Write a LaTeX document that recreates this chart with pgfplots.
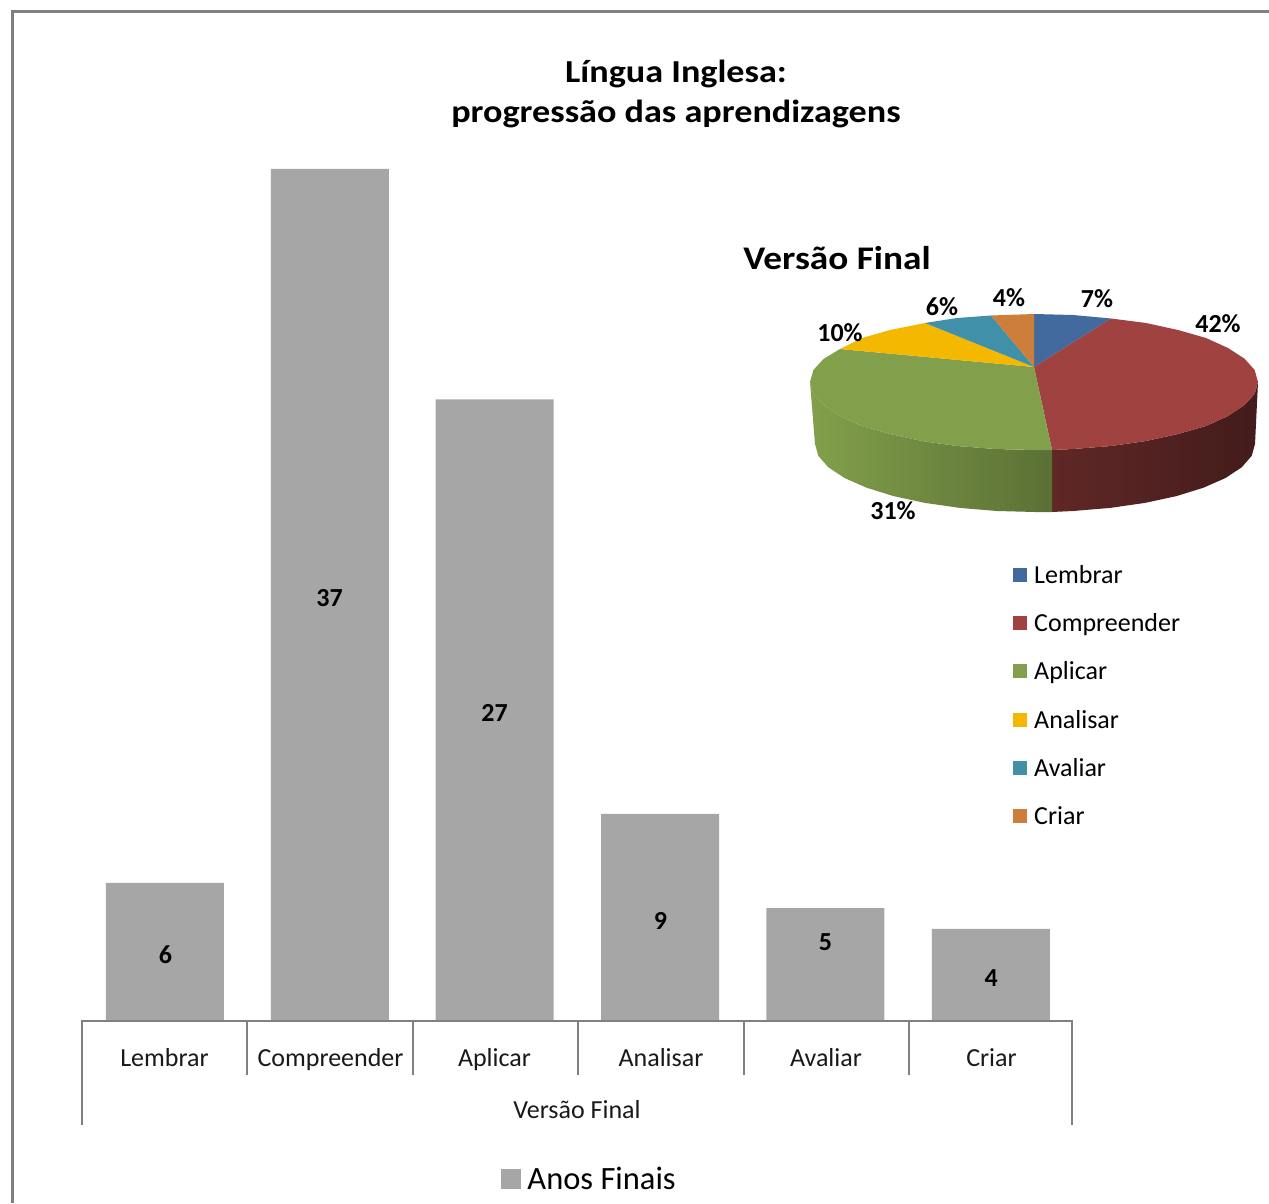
\documentclass[border=0pt]{standalone}
\usepackage{fontspec}
\usepackage{pgfplots}
\pgfplotsset{compat=1.18}
\setmainfont{Carlito}
\newfontfamily\widefont[FakeStretch=1.13]{Carlito}
\definecolor{framegray}{HTML}{808080}
\definecolor{bargray}{HTML}{A6A6A6}
\definecolor{cblue}{HTML}{426A9F}
\definecolor{cred}{HTML}{9F4240}
\definecolor{cgreen}{HTML}{82A04B}
\definecolor{cyellow}{HTML}{F5B800}
\definecolor{cteal}{HTML}{3F90A8}
\definecolor{corange}{HTML}{CC7E3A}
\pgfplotsset{swatch/.style={legend image code/.code={\fill[##1] (0pt,-#1) rectangle (2*#1,#1);}}}
\tikzset{cat/.style={font=\fontsize{26}{26}\selectfont,text=black!90,text height=17pt,text depth=6pt}}
\begin{document}
\begin{tikzpicture}[x=1pt,y=1pt]
\useasboundingbox (0,0) rectangle (1269,1203);
\fill[white] (0,0) rectangle (1269,1203);
% frame
\draw[framegray,line width=3pt] (1269,1191) -- (12,1191) -- (12,0);
% bar chart
\begin{axis}[
  at={(82pt,182pt)},anchor=south west,
  scale only axis,width=990pt,height=852pt,
  xmin=-0.5,xmax=5.5,ymin=0,ymax=37,
  axis y line=none,axis x line=none,
  clip=false,
  legend style={at={(0.4235,-0.169)},anchor=north west,draw=none,fill=none,inner sep=0pt,
    font=\fontsize{32.5}{33}\selectfont,nodes={inner sep=2pt},column sep=4pt},
]
\addplot[ybar,bar width=118pt,fill=bargray,draw=none,swatch=10pt] coordinates {
  (0.003,6) (1.003,37) (2,27) (3.003,9) (4.006,4.9) (5.009,4)};
\addlegendentry{Anos Finais}
\addplot[forget plot,draw=none,mark=none,point meta=explicit symbolic,
  nodes near coords,
  nodes near coords style={anchor=center,font=\fontsize{26}{26}\bfseries\selectfont,text=black}]
  table[meta=label] {
x y label
0.006 2.87 6
1 18.37 37
2 13.37 27
3.006 4.34 9
4.006 3.43 5
5.01 1.87 4
};
\end{axis}
\draw[framegray,line width=2.6pt] (81,182) -- (1073,182);
\foreach \sx in {247,413,578,744,909} \draw[framegray,line width=2.4pt] (\sx,183) -- (\sx,128);
\draw[framegray,line width=2.4pt] (82,183) -- (82,78);
\draw[framegray,line width=2.4pt] (1072,183) -- (1072,78);
\node[cat] at (164.5,142) {Lembrar};
\node[cat] at (330.5,142) {Compreender};
\node[cat] at (494.5,142) {Aplicar};
\node[cat] at (661,142) {Analisar};
\node[cat] at (826,142) {Avaliar};
\node[cat] at (991.5,142) {Criar};
\node[cat] at (577,90) {Versão Final};
% pie, in picture pixel coordinates
\begin{axis}[
  at={(0pt,0pt)},anchor=south west,
  scale only axis,width=1269pt,height=1203pt,
  xmin=0,xmax=1269,ymin=0,ymax=1203,y dir=reverse,
  hide axis,clip=false,
  legend style={at={(axis cs:1013,563)},anchor=north west,draw=none,fill=none,
    font=\fontsize{26}{26}\selectfont,row sep=24.7pt,column sep=5pt,inner sep=0pt,
    nodes={inner sep=2pt}},
  legend cell align=left,
]
\addplot[forget plot,draw=none,left color=cred!60!black,right color=cred!42!black,mark=none] coordinates {
 (1052,450) (1073,449) (1111,446) (1146,441) (1178,434) (1206,426) (1228,416) (1244.5,405) (1254.6,394) (1258,382)
 (1255,444) (1251.7,455.8) (1241.7,467.3) (1225.5,478) (1203.5,487.7) (1176.4,496.1) (1145,502.9) (1110.2,507.9) (1073.2,511) (1052,512)} --cycle;
\addplot[forget plot,draw=none,left color=cgreen,right color=cgreen!70!black,mark=none] coordinates {
 (1052,450) (1034,450) (995,449) (957,446) (922,441) (890,434) (862,426) (840,416) (823.5,405) (813.4,394) (810,382)
 (815,444) (818.3,455.8) (828.3,467.3) (844.5,478) (866.5,487.7) (893.6,496.1) (925,502.9) (959.8,507.9) (996.8,511) (1035,512) (1052,512)} --cycle;
\addplot[draw=none,fill=cblue,mark=none,swatch=7pt] coordinates {(1034,367) (1034,314) (1073,315) (1111,318.5)} --cycle;
\addlegendentry{Lembrar}
\addplot[draw=none,fill=cred,mark=none,swatch=7pt] coordinates {(1034,367) (1111,318.5) (1146,323) (1178,330) (1206,338) (1228,348) (1244.5,358.7) (1254.6,370) (1258,382) (1254.6,394) (1244.5,405) (1228,416) (1206,426) (1178,434) (1146,441) (1111,446) (1073,449) (1052,450)} --cycle;
\addlegendentry{Compreender}
\addplot[draw=none,fill=cgreen,mark=none,swatch=7pt] coordinates {(1034,367) (1052,450) (1034,450) (995,449) (957,446) (922,441) (890,434) (862,426) (840,416) (823.5,405) (813.4,394) (810,382) (813.4,370) (823.5,359) (840,349)} --cycle;
\addlegendentry{Aplicar}
\addplot[draw=none,fill=cyellow,mark=none,swatch=7pt] coordinates {(1034,367) (840,349) (862,338) (890,330) (925,323)} --cycle;
\addlegendentry{Analisar}
\addplot[draw=none,fill=cteal,mark=none,swatch=7pt] coordinates {(1034,367) (925,323) (957,318) (991,315.5)} --cycle;
\addlegendentry{Avaliar}
\addplot[draw=none,fill=corange,mark=none,swatch=7pt] coordinates {(1034,367) (991,315.5) (1034,314)} --cycle;
\addlegendentry{Criar}
\begin{scope}[every node/.style={font=\fontsize{26}{26}\bfseries\selectfont,text=black}]
\node at (axis cs:1097,299) {7\%};
\node at (axis cs:1218,324) {42\%};
\node at (axis cs:893,511) {31\%};
\node at (axis cs:840,333) {10\%};
\node at (axis cs:942,307) {6\%};
\node at (axis cs:1009,298) {4\%};
\end{scope}
\node[font=\widefont\fontsize{32}{32}\bfseries\selectfont,text=black] at (axis cs:676,74) {Língua Inglesa:};
\node[font=\widefont\fontsize{32}{32}\bfseries\selectfont,text=black] at (axis cs:676,114) {progressão das aprendizagens};
\node[font=\widefont\fontsize{33}{33}\bfseries\selectfont,text=black] at (axis cs:837,258) {Versão Final};
\end{axis}
\end{tikzpicture}
\end{document}
